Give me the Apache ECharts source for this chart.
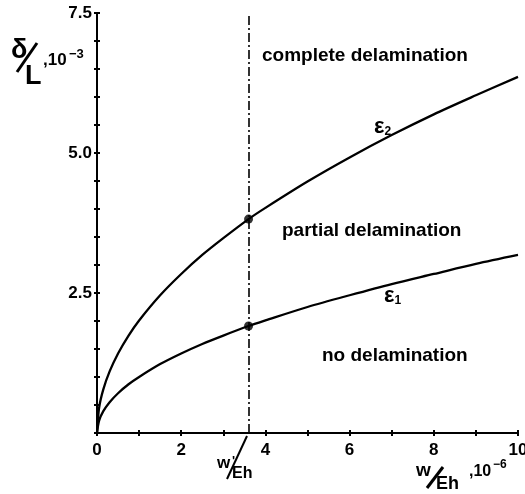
<!DOCTYPE html>
<html>
<head>
<meta charset="utf-8">
<script src="https://cdn.jsdelivr.net/npm/echarts@6/dist/echarts.min.js"></script>
<style>
  html, body { margin: 0; padding: 0; background: #fff; }
  #chart { width: 525px; height: 494px; }
</style>
</head>
<body>
<div id="chart"></div>
<script>
// Normalised load w/Eh (x 10^-6)
const loadValues = [0, 0.05, 0.15, 0.3, 0.5, 0.75, 1, 1.5, 2, 2.5, 3, 3.6, 4, 5, 6, 7, 8, 9, 10];
// Deflection ratio δ/L (x 10^-3) at strain limit ε1
const eps1Values = [0, 0.22, 0.39, 0.55, 0.71, 0.87, 1.0, 1.23, 1.42, 1.59, 1.74, 1.91, 2.01, 2.25, 2.46, 2.66, 2.84, 3.02, 3.18];
// Deflection ratio δ/L (x 10^-3) at strain limit ε2
const eps2Values = [0, 0.45, 0.78, 1.1, 1.42, 1.74, 2.01, 2.46, 2.84, 3.18, 3.48, 3.82, 4.02, 4.49, 4.92, 5.32, 5.69, 6.03, 6.36];
// Critical load w*/Eh
const criticalLoad = 3.6;
// Labelled ticks
const xTickLabels = [0, 2, 4, 6, 8, 10];
const yTickLabels = [2.5, 5.0, 7.5];

const FONT = "'Liberation Sans', Arial, Helvetica, sans-serif";
const pair = (xs, ys) => xs.map((x, i) => [x, ys[i]]);
const critIdx = loadValues.indexOf(criticalLoad);

const chart = echarts.init(document.getElementById('chart'), null, { renderer: 'canvas' });

const xBase = {
  type: 'value', min: 0, max: 10, interval: 1, position: 'bottom',
  splitLine: { show: false }
};
const yBase = {
  type: 'value', min: 0, max: 7.5, interval: 0.5, position: 'left',
  splitLine: { show: false }
};

chart.setOption({
  animation: false,
  backgroundColor: '#fff',
  grid: { left: 97, right: 7, top: 13, bottom: 61, containLabel: false, outerBoundsMode: 'none' },
  xAxis: [
    Object.assign({}, xBase, {
      axisLine: { show: true, lineStyle: { color: '#000', width: 2 } },
      axisTick: { show: true, length: 3, lineStyle: { color: '#000', width: 2 } },
      axisLabel: {
        show: true, margin: 9, color: '#000', fontSize: 17, fontWeight: 'bold', fontFamily: FONT,
        showMaxLabel: true, hideOverlap: false,
        formatter: v => xTickLabels.includes(v) ? String(v) : ''
      }
    }),
    Object.assign({}, xBase, {
      axisLine: { show: false },
      axisTick: { show: true, inside: true, length: 3, lineStyle: { color: '#000', width: 2 } },
      axisLabel: { show: false }
    })
  ],
  yAxis: [
    Object.assign({}, yBase, {
      axisLine: { show: true, lineStyle: { color: '#000', width: 2 } },
      axisTick: { show: true, length: 3, lineStyle: { color: '#000', width: 2 } },
      axisLabel: {
        show: true, margin: 5, color: '#000', fontSize: 17, fontWeight: 'bold', fontFamily: FONT,
        formatter: v => yTickLabels.includes(v) ? v.toFixed(1) : ''
      }
    }),
    Object.assign({}, yBase, {
      axisLine: { show: false },
      axisTick: { show: true, inside: true, length: 3, lineStyle: { color: '#000', width: 2 } },
      axisLabel: { show: false }
    })
  ],
  series: [
    {
      name: 'ε1', type: 'line', smooth: 0.3, showSymbol: false,
      data: pair(loadValues, eps1Values),
      lineStyle: { color: '#000', width: 2.3 },
      markLine: {
        silent: true, symbol: 'none', label: { show: false },
        lineStyle: { color: '#000', width: 1.6, type: [9, 3, 2, 3] },
        data: [{ xAxis: criticalLoad }]
      }
    },
    {
      name: 'ε2', type: 'line', smooth: 0.3, showSymbol: false,
      data: pair(loadValues, eps2Values),
      lineStyle: { color: '#000', width: 2.3 }
    },
    {
      name: 'critical', type: 'scatter', symbol: 'circle', symbolSize: 9,
      itemStyle: { color: '#000' },
      data: [[criticalLoad, eps1Values[critIdx]], [criticalLoad, eps2Values[critIdx]]],
      z: 5
    }
  ],
  graphic: [
    // region labels
    { type: 'text', x: 262, y: 56, style: { text: 'complete delamination', font: `bold 19px ${FONT}`, fill: '#000', verticalAlign: 'middle' } },
    { type: 'text', x: 282, y: 231, style: { text: 'partial delamination', font: `bold 19px ${FONT}`, fill: '#000', verticalAlign: 'middle' } },
    { type: 'text', x: 322, y: 356, style: { text: 'no delamination', font: `bold 19px ${FONT}`, fill: '#000', verticalAlign: 'middle' } },
    // curve labels
    { type: 'text', x: 374, y: 127, style: {
        text: '{e|ε}{s|2}', verticalAlign: 'middle', fill: '#000',
        rich: { e: { font: `bold 22px ${FONT}`, fill: '#000' }, s: { font: `bold 12px ${FONT}`, fill: '#000', padding: [10, 0, 0, 0] } }
    } },
    { type: 'text', x: 384, y: 296, style: {
        text: '{e|ε}{s|1}', verticalAlign: 'middle', fill: '#000',
        rich: { e: { font: `bold 22px ${FONT}`, fill: '#000' }, s: { font: `bold 12px ${FONT}`, fill: '#000', padding: [10, 0, 0, 0] } }
    } },
    // y axis title δ/L ,10^-3
    { type: 'text', x: 11, y: 51, style: { text: 'δ', font: `bold 27px ${FONT}`, fill: '#000', verticalAlign: 'middle' } },
    { type: 'line', shape: { x1: 17, y1: 72, x2: 37, y2: 43 }, style: { stroke: '#000', lineWidth: 3 } },
    { type: 'text', x: 25, y: 77, style: { text: 'L', font: `bold 27px ${FONT}`, fill: '#000', verticalAlign: 'middle' } },
    { type: 'text', x: 43, y: 60, style: { text: ',10', font: `bold 17px ${FONT}`, fill: '#000', verticalAlign: 'middle' } },
    { type: 'text', x: 69, y: 54, style: { text: '−3', font: `bold 13px ${FONT}`, fill: '#000', verticalAlign: 'middle' } },
    // x axis title w/Eh ,10^-6
    { type: 'text', x: 416, y: 471, style: { text: 'w', font: `bold 19px ${FONT}`, fill: '#000', verticalAlign: 'middle' } },
    { type: 'line', shape: { x1: 427, y1: 488, x2: 443, y2: 467 }, style: { stroke: '#000', lineWidth: 3 } },
    { type: 'text', x: 436, y: 484, style: { text: 'Eh', font: `bold 18px ${FONT}`, fill: '#000', verticalAlign: 'middle' } },
    { type: 'text', x: 469, y: 472, style: { text: ',10', font: `bold 16px ${FONT}`, fill: '#000', verticalAlign: 'middle' } },
    { type: 'text', x: 493, y: 465, style: { text: '−6', font: `bold 12px ${FONT}`, fill: '#000', verticalAlign: 'middle' } },
    // critical load marker w*/Eh
    { type: 'text', x: 217, y: 463, style: { text: 'w', font: `bold 17px ${FONT}`, fill: '#000', verticalAlign: 'middle' } },
    { type: 'text', x: 232, y: 461, style: { text: "'", font: `bold 13px ${FONT}`, fill: '#000', verticalAlign: 'middle' } },
    { type: 'line', shape: { x1: 227, y1: 479, x2: 247, y2: 436 }, style: { stroke: '#000', lineWidth: 2 } },
    { type: 'text', x: 232, y: 474, style: { text: 'Eh', font: `bold 16px ${FONT}`, fill: '#000', verticalAlign: 'middle' } }
  ]
});
</script>
</body>
</html>
